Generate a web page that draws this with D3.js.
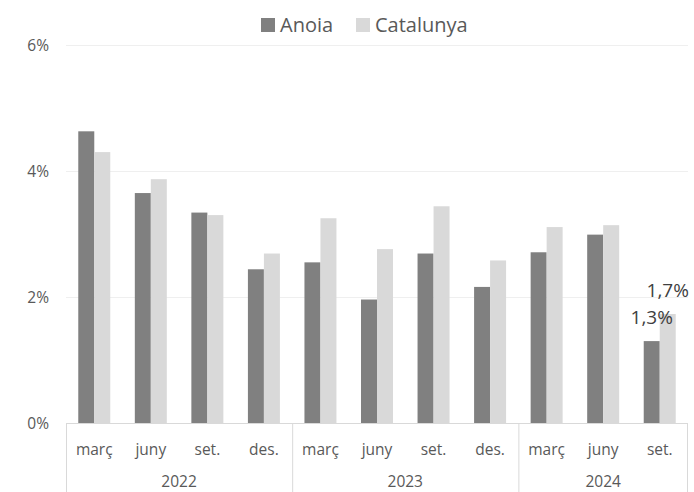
<!DOCTYPE html>
<meta charset="utf-8">
<head>
<script src="https://cdn.jsdelivr.net/npm/d3@7"></script>
<style>
  body { margin: 0; background: #fff; }
  text { font-family: "Open Sans", "Noto Sans", sans-serif; fill: #595959; }
</style>
</head>
<body>
<script>
// data
var months = ["març", "juny", "set.", "des.", "març", "juny", "set.", "des.", "març", "juny", "set."];
var years = ["2022", "2023", "2024"];
var yearSpan = [4, 4, 3];
var anoia = [4.63, 3.65, 3.34, 2.44, 2.55, 1.96, 2.69, 2.16, 2.71, 2.99, 1.30];
var catalunya = [4.30, 3.87, 3.30, 2.69, 3.25, 2.76, 3.44, 2.58, 3.11, 3.14, 1.73];
var seriesNames = ["Anoia", "Catalunya"];
var colors = ["#808080", "#d9d9d9"];
var yTicks = [0, 2, 4, 6];

var w = 694, h = 492;
var plotLeft = 66, plotRight = 688, plotTop = 45, plotBottom = 423;

var svg = d3.select("body").append("svg")
    .attr("width", w).attr("height", h);

var x = d3.scaleBand().domain(d3.range(months.length)).range([plotLeft, plotRight]);
var xs = d3.scaleBand().domain([0, 1]).range([0, 32]);
var y = d3.scaleLinear().domain([0, 6]).range([plotBottom, plotTop]);

// gridlines
svg.append("g").selectAll("line").data(yTicks.slice(1)).enter().append("line")
    .attr("x1", plotLeft).attr("x2", plotRight)
    .attr("y1", d => y(d) + 0.5).attr("y2", d => y(d) + 0.5)
    .attr("stroke", "#efefef").attr("stroke-width", 1);

svg.append("g").selectAll("text").data(yTicks).enter().append("text")
    .attr("x", 49).attr("y", d => y(d) + 6)
    .attr("text-anchor", "end").attr("font-size", 15.5)
    .text(d => d + "%");

// bars
var series = [anoia, catalunya];
series.forEach(function (vals, s) {
  svg.append("g").selectAll("rect").data(vals).enter().append("rect")
      .attr("x", (d, i) => x(i) + (x.bandwidth() - 32) / 2 + xs(s))
      .attr("width", xs.bandwidth())
      .attr("y", d => y(d))
      .attr("height", d => y(0) - y(d))
      .attr("fill", colors[s]);
});

// data labels on last point
var last = months.length - 1;
series.forEach(function (vals, s) {
  svg.append("text")
      .attr("x", x(last) + (x.bandwidth() - 32) / 2 + xs(s) + xs.bandwidth() / 2)
      .attr("y", y(vals[last]) - 17)
      .attr("text-anchor", "middle").attr("font-size", 19)
      .style("fill", "#404040")
      .text(d3.format(".1f")(vals[last]).replace(".", ",") + "%");
});

// axis line
svg.append("line").attr("x1", plotLeft).attr("x2", plotRight)
    .attr("y1", plotBottom + 0.5).attr("y2", plotBottom + 0.5)
    .attr("stroke", "#d9d9d9");

// month labels
svg.append("g").selectAll("text").data(months).enter().append("text")
    .attr("x", (d, i) => x(i) + x.bandwidth() / 2)
    .attr("y", 455)
    .attr("text-anchor", "middle").attr("font-size", 15.5)
    .text(d => d);

// year groups
var pos = 0;
var bounds = [0];
yearSpan.forEach(function (n) { pos += n; bounds.push(pos); });
svg.append("g").selectAll("line").data(bounds).enter().append("line")
    .attr("x1", d => d === months.length ? plotRight - 0.5 : x(d) + 0.5)
    .attr("x2", d => d === months.length ? plotRight - 0.5 : x(d) + 0.5)
    .attr("y1", plotBottom).attr("y2", h)
    .attr("stroke", "#d9d9d9");

svg.append("g").selectAll("text").data(years).enter().append("text")
    .attr("x", (d, i) => {
      var a = x(bounds[i]), b = bounds[i + 1] === months.length ? plotRight : x(bounds[i + 1]);
      return (a + b) / 2;
    })
    .attr("y", 487)
    .attr("text-anchor", "middle").attr("font-size", 15.5)
    .text(d => d);

// legend
var leg = svg.append("g");
var legX = [261, 356];
seriesNames.forEach(function (name, s) {
  leg.append("rect").attr("x", legX[s]).attr("y", 18).attr("width", 14).attr("height", 14)
      .attr("fill", colors[s]);
  leg.append("text").attr("x", legX[s] + 19).attr("y", 32)
      .attr("font-size", 20).text(name);
});
</script>
</body>
